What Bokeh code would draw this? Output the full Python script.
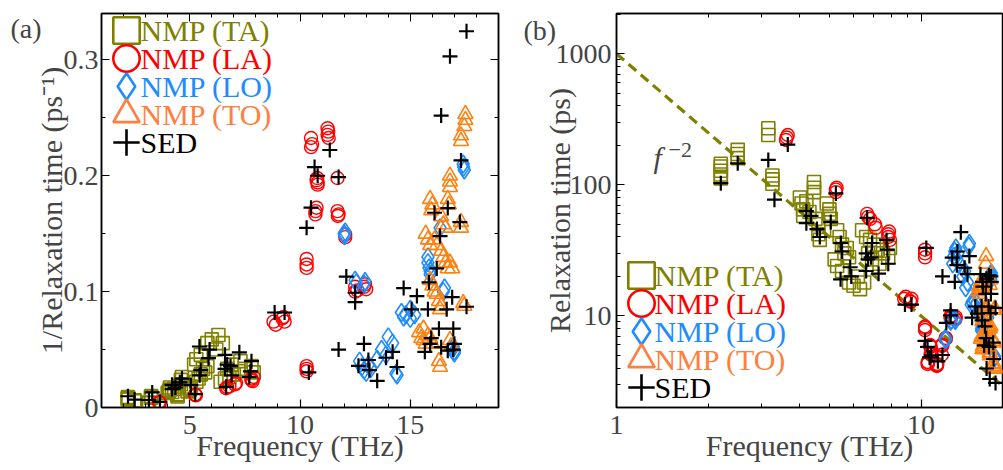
from bokeh.plotting import figure
from bokeh.layouts import row
from bokeh.models import (Legend, LegendItem, Label, LinearAxis, LogAxis, FixedTicker, Range1d,
                          CustomJSTickFormatter)
from bokeh.embed import file_html
from bokeh.resources import INLINE

FONT = "Liberation Serif"

# ---------------- data: frequency (THz) and relaxation time (ps) ----------------
ta_freq = [2.2, 2.2, 2.2, 2.2, 2.2, 2.5, 2.5, 2.5, 3.15, 3.15, 3.25, 3.25, 3.25,
           4.0, 4.05, 4.1, 4.1, 4.2, 4.45, 4.45, 4.45, 4.3, 4.5, 4.6, 4.6, 4.65,
           4.9, 5.0, 5.0, 5.05, 5.3, 5.4, 5.5, 5.2, 5.3, 5.6, 5.7, 5.8,
           5.5, 5.8, 6.0, 6.3, 6.5, 6.2,
           6.4, 6.6, 6.8, 7.0, 7.2, 7.5, 7.8, 7.9, 6.7, 6.9, 7.3]
ta_tau = [112, 120, 128, 138, 145, 160, 172, 185, 240, 270, 102, 110, 118,
          80, 72, 65, 58, 75, 105, 95, 88, 62, 55, 50, 42, 38,
          72, 65, 60, 55, 45, 40, 35, 27, 24, 30, 33, 28,
          22, 18, 17, 16, 18, 20,
          45, 40, 38, 35, 32, 30, 28, 33, 30, 27, 25]

la_freq = [3.6, 3.65, 3.62, 5.25, 5.25, 5.28, 6.65, 6.8, 7.1, 7.05, 6.7,
           7.8, 7.8, 7.85, 7.9, 8.8, 8.9, 9.2, 9.25, 9.3,
           10.3, 10.3, 10.3, 10.3, 10.3, 10.3, 10.5, 10.55, 10.5,
           10.7, 10.75, 10.7, 10.75, 10.8, 10.8, 10.78,
           11.25, 11.25, 11.3, 11.28, 11.7, 11.7, 11.75, 11.72,
           12.05, 12.05, 12.5, 12.6, 12.5, 12.9, 13.0, 12.95]
la_tau = [220, 240, 230, 88, 92, 95, 60, 55, 47, 50, 57,
          40, 42, 44, 38, 13.5, 14, 13, 12.8, 13.5,
          28, 30, 32, 7.8, 8.1, 8.3, 4.3, 4.4, 4.45,
          5.9, 5.8, 6.0, 5.1, 5.15, 5.2, 5.05,
          4.15, 4.25, 4.3, 4.2, 5.05, 5.9, 6.0, 6.05,
          6.7, 6.8, 10.0, 9.9, 9.6, 9.6, 9.8, 9.4]

lo_freq = [12.0, 12.05, 12.02, 12.5, 12.55, 12.9, 12.95,
           12.7, 12.8, 12.9, 13.0, 13.2, 13.1, 13.5, 13.7, 14.0, 14.2, 13.9, 14.4, 14.35,
           14.6, 14.8, 15.0, 15.2, 15.0, 14.7, 15.8, 15.85, 15.9, 15.8, 15.9,
           16.35, 16.5, 16.55, 16.9, 17.0, 16.95, 17.0, 17.4, 17.45, 17.42]
lo_tau = [6.67, 6.6, 6.75, 9.1, 9.3, 9.4, 9.2,
          25, 28.5, 31, 33, 30, 27, 24, 20, 16.4, 18, 22, 35.7, 34,
          12.2, 12.5, 13, 12.5, 11.8, 12.8, 8.0, 8.3, 8.7, 7.7, 8.5,
          6.45, 10.0, 9.7, 20, 21.3, 19, 20.5, 4.76, 4.88, 4.82]

to_freq = [17.5, 17.5, 17.45, 17.3, 17.3, 16.8, 16.8, 16.8, 16.7, 16.75,
           15.9, 16.0, 15.95, 16.4, 16.5, 16.6, 17.3, 17.3,
           15.7, 15.8, 15.9, 16.1, 16.2, 16.4, 16.5, 16.6, 16.7, 16.8, 16.9,
           15.9, 16.0, 16.1, 16.2, 16.3, 16.4, 16.35, 17.4, 17.45,
           15.4, 15.5, 15.6, 15.7, 15.8, 15.9, 16.0, 15.6, 16.3, 16.35, 16.8, 16.85]
to_tau = [3.95, 4.03, 4.12, 4.26, 4.35, 5.0, 5.13, 5.26, 5.56, 5.71,
          5.56, 5.71, 5.88, 6.06, 6.33, 6.45, 6.25, 6.45,
          6.67, 6.9, 7.14, 6.9, 7.14, 7.4, 7.7, 8.0, 8.33, 8.0, 8.33,
          9.1, 9.5, 10.0, 10.2, 10.9, 11.4, 11.8, 11.1, 11.4,
          15.4, 16.7, 17.2, 18.2, 16.1, 16.7, 18.2, 14.7, 25, 28.6, 17.2, 18.9]

sed_freq = [2.2, 2.5, 3.15, 3.3, 3.65, 4.2, 4.35, 4.2, 4.55, 4.65, 5.05, 5.25,
            5.45, 5.5, 5.44, 5.85, 5.9, 6.65, 6.6, 6.7, 6.9, 6.85, 7.25, 7.7, 7.75, 7.8, 6.6,
            8.85, 9.3, 10.3, 10.4, 10.5, 10.66, 10.8, 11.35, 11.75, 11.75,
            12.1, 12.5, 12.5, 12.9, 12.65, 13.1, 13.15, 13.5, 13.9, 14.2, 14.4,
            14.7, 15.3, 15.06, 15.66, 15.9, 15.95, 15.85, 15.8,
            16.1, 16.35, 16.2, 16.3, 16.4, 16.7, 16.4, 16.8, 17.55,
            16.7, 17.25, 17.3, 16.9, 16.65, 16.95, 17.0, 16.95, 17.55]
sed_tau = [103, 146, 155, 77, 203, 63, 58, 51, 46, 40, 52, 86,
           36, 31, 19, 23.5, 20, 56, 30, 27, 36, 28, 21, 38, 32, 25, 22,
           12.2, 12.2, 6.45, 33, 5.8, 4.82, 5.0, 4.5, 5.03, 20,
           8.85, 10.1, 11.0, 18.2, 27.8, 24.4, 31, 43.5, 23.3, 20.8, 28.6,
           9.7, 10.4, 11.8, 20.8, 18.2, 16.7, 9.26, 11.8,
           5.95, 6.76, 8.33, 14.7, 19.2, 20.4, 3.97, 3.3, 3.08,
           5.81, 6.25, 4.69, 10.5, 11.8, 14.7, 18.2, 20.0, 11.5]

# f^-2 guide line end points (frequency THz, relaxation time ps)
fit_freq = [1.0, 20.0]
fit_tau = [1000.0, 2.5]

# axes ticks / labels
a_x_ticks = [5, 10, 15]
a_y_ticks = [0, 0.1, 0.2, 0.3]
a_y_labels = {0: "0", 0.1: "0.1", 0.2: "0.2", 0.3: "0.3"}
b_x_ticks = [1, 10]
b_y_ticks = [10, 100, 1000]

series_names = ["NMP (TA)", "NMP (LA)", "NMP (LO)", "NMP (TO)", "SED"]
panel_tags = ["(a)", "(b)"]

OLIVE = "#808000"
RED = "#ff0000"
BLUE = "#1e8cff"
ORANGE = "#ff8010"
ORANGE_LEG = "#ff7f40"
BLACK = "#000000"


def rate(taus):
    return [1.0 / t for t in taus]


def style_axis(ax, size="28px"):
    ax.major_label_text_font = FONT
    ax.major_label_text_font_size = size
    ax.axis_label_text_font = FONT
    ax.axis_label_text_font_size = "30px"
    ax.axis_label_text_font_style = "normal"
    ax.major_tick_in = 8
    ax.major_tick_out = 0
    ax.minor_tick_in = 4
    ax.minor_tick_out = 0
    ax.axis_line_width = 1.5
    ax.major_tick_line_width = 1.2
    ax.minor_tick_line_width = 1.0


def mirror_axis(ax):
    ax.formatter = CustomJSTickFormatter(code="return '';")
    ax.major_label_text_font_size = "6px"
    ax.major_label_standoff = 0
    ax.major_tick_in = 8
    ax.major_tick_out = 0
    ax.minor_tick_in = 4
    ax.minor_tick_out = 0
    ax.axis_line_width = 1.5


def add_series(p, ytrans):
    rs = []
    rs.append(p.scatter(ta_freq, ytrans(ta_tau), marker="square", size=13,
                        fill_color=None, line_color=OLIVE, line_width=1.6))
    rs.append(p.scatter(la_freq, ytrans(la_tau), marker="circle", size=13,
                        fill_color=None, line_color=RED, line_width=1.4))
    rs.append(p.scatter(lo_freq, ytrans(lo_tau), marker="diamond", size=18,
                        fill_color=None, line_color=BLUE, line_width=1.6))
    rs.append(p.scatter(to_freq, ytrans(to_tau), marker="triangle", size=15,
                        fill_color=None, line_color=ORANGE, line_width=1.6))
    rs.append(p.scatter(sed_freq, ytrans(sed_tau), marker="cross", size=15,
                        line_color=BLACK, line_width=2.2))
    return rs


def add_legend(p, ytrans, x0, y_top_center, text_x):
    markers = ["square", "circle", "diamond", "triangle", "cross"]
    colors = [OLIVE, RED, BLUE, ORANGE_LEG, BLACK]
    firsts = [(ta_freq, ta_tau), (la_freq, la_tau), (lo_freq, lo_tau),
              (to_freq, to_tau), (sed_freq, sed_tau)]
    G = 66
    for i, (m, c, name, (fx, ft)) in enumerate(zip(markers, colors, series_names, firsts)):
        r = p.scatter(x=fx[:1], y=ytrans(ft[:1]), marker=m, fill_color=None,
                      line_color=c, line_width=2.6, visible=False)
        yc = y_top_center - 28 * i
        leg = Legend(items=[LegendItem(label="", renderers=[r])],
                     location=(x0 - (G - 57) / 2, yc - G / 2),
                     glyph_width=G, glyph_height=G, label_standoff=0,
                     label_width=0, label_height=0,
                     padding=0, margin=0, spacing=0,
                     border_line_alpha=0, background_fill_alpha=0,
                     label_text_font=FONT, label_text_font_size="30px")
        p.add_layout(leg, "center")
        p.add_layout(Label(x=text_x, y=yc, x_units="screen", y_units="screen", text=name,
                           text_font=FONT, text_font_size="30px", text_color=c,
                           text_baseline="middle"))


# ---------------- panel (a) ----------------
pa = figure(width=505, height=470, output_backend="svg", toolbar_location=None,
            x_range=Range1d(1, 19), y_range=Range1d(0, 0.34),
            min_border_left=101, min_border_right=7, min_border_top=10, min_border_bottom=63)
pa.grid.visible = False
pa.outline_line_color = BLACK
pa.outline_line_width = 1.5
pa.xaxis.axis_label = "Frequency (THz)"
pa.yaxis.axis_label = "1/Relaxation time (ps\u207b\u00b9)"
for ax in pa.xaxis:
    style_axis(ax)
    ax.ticker = FixedTicker(ticks=a_x_ticks, minor_ticks=list(range(1, 20)))
    ax.major_label_standoff = 8
    ax.axis_label_standoff = -8
for ax in pa.yaxis:
    style_axis(ax)
    ax.ticker = FixedTicker(ticks=a_y_ticks, minor_ticks=[0.05, 0.15, 0.25])
    ax.major_label_overrides = a_y_labels
    ax.major_label_standoff = 3
    ax.axis_label_standoff = -7
ra = LinearAxis(ticker=FixedTicker(ticks=a_y_ticks, minor_ticks=[0.05, 0.15, 0.25]))
mirror_axis(ra)
pa.add_layout(ra, "right")
ta_ax = LinearAxis(ticker=FixedTicker(ticks=a_x_ticks, minor_ticks=list(range(1, 20))))
mirror_axis(ta_ax)
pa.add_layout(ta_ax, "above")

add_series(pa, rate)
add_legend(pa, rate, -4, 377, 39)
# panel tag in the left side panel (not clipped by the frame)
pa.add_layout(Label(x=10, y=28, x_units="canvas", y_units="canvas", text=panel_tags[0],
                    text_font=FONT, text_font_size="28px", text_baseline="middle"), "left")

# ---------------- panel (b) ----------------
pb = figure(width=498, height=470, output_backend="svg", toolbar_location=None,
            x_axis_type="log", y_axis_type="log",
            x_range=Range1d(1, 18.5), y_range=Range1d(2, 2030),
            min_border_left=111, min_border_right=1, min_border_top=13, min_border_bottom=63)
pb.grid.visible = False
pb.outline_line_color = BLACK
pb.outline_line_width = 1.5
pb.xaxis.axis_label = "Frequency (THz)"
pb.yaxis.axis_label = "Relaxation time (ps)"
bx_minor = [2, 3, 4, 5, 6, 7, 8, 9, 20]
by_minor = [3, 4, 5, 6, 7, 8, 9, 20, 30, 40, 50, 60, 70, 80, 90,
            200, 300, 400, 500, 600, 700, 800, 900, 2000]
for ax in pb.xaxis:
    style_axis(ax)
    ax.ticker = FixedTicker(ticks=b_x_ticks, minor_ticks=bx_minor)
    ax.major_label_overrides = {1: "1", 10: "10"}
    ax.major_label_standoff = 8
    ax.axis_label_standoff = -8
for ax in pb.yaxis:
    style_axis(ax)
    ax.ticker = FixedTicker(ticks=b_y_ticks, minor_ticks=by_minor)
    ax.major_label_overrides = {10: "10", 100: "100", 1000: "1000"}
    ax.major_label_standoff = 5
    ax.axis_label_standoff = -23
tb_ax = LogAxis(ticker=FixedTicker(ticks=b_x_ticks, minor_ticks=bx_minor))
mirror_axis(tb_ax)
pb.add_layout(tb_ax, "above")

pb.line(fit_freq, fit_tau, line_color=OLIVE, line_width=3.2, line_dash="10 6")
add_series(pb, lambda t: t)
add_legend(pb, lambda t: t, -4, 132, 38)
pb.add_layout(Label(x=18, y=30, x_units="canvas", y_units="canvas", text=panel_tags[1],
                    text_font=FONT, text_font_size="28px", text_baseline="middle"), "left")
pb.add_layout(Label(x=37, y=234, x_units="screen", y_units="screen", text="f",
                    text_font=FONT, text_font_size="30px", text_font_style="italic"))
pb.add_layout(Label(x=52, y=258, x_units="screen", y_units="screen", text="\u22122",
                    text_font=FONT, text_font_size="22px", text_baseline="middle"))

layout = row(pa, pb)
open("out.html", "w").write(file_html(layout, INLINE))
